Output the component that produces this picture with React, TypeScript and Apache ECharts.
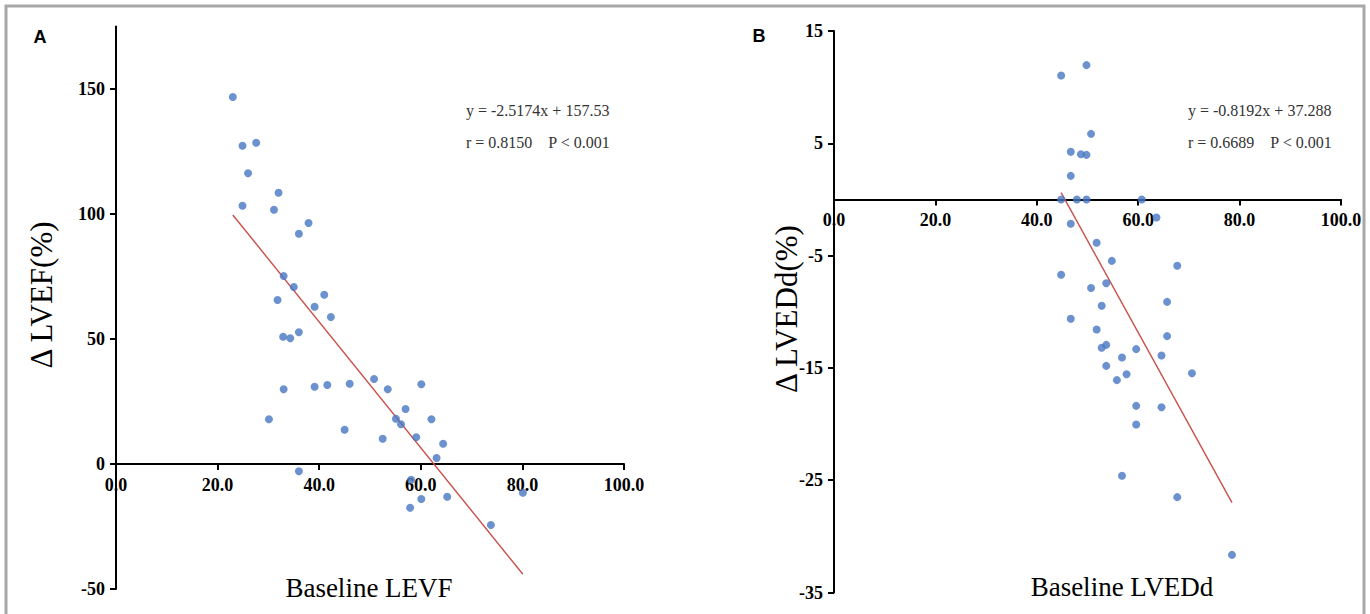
import React, { useEffect, useRef } from "react";
import * as echarts from "echarts";

// Panel A: Baseline LEVF vs ΔLVEF(%)
const aX = [23.0, 24.9, 27.6, 26.0, 24.9, 32.0, 31.1, 37.9, 36.0, 33.0, 35.0, 31.8, 41.0, 39.1, 42.3, 32.9, 34.3, 36.0, 33.0, 39.1, 41.6, 46.0, 50.8, 53.5, 60.1, 30.1, 45.0, 52.5, 55.1, 56.1, 57.0, 62.1, 59.1, 64.4, 63.1, 36.0, 58.1, 60.1, 65.2, 57.9, 73.8, 80.1];
const aY = [146.8, 127.3, 128.5, 116.3, 103.3, 108.5, 101.7, 96.4, 92.1, 75.2, 70.8, 65.6, 67.7, 62.9, 58.8, 50.9, 50.3, 52.7, 29.9, 30.9, 31.6, 32.1, 34.0, 29.9, 31.9, 17.9, 13.7, 10.1, 18.1, 15.9, 22.0, 17.9, 10.7, 8.1, 2.4, -2.9, -6.3, -14.0, -13.1, -17.5, -24.4, -11.5];
const aTrend = [[23.0, 99.6], [80.1, -44.1]];
const aYTicks = [-50, 0, 50, 100, 150];

// Panel B: Baseline LVEDd vs ΔLVEDd(%)
const bX = [44.8, 49.8, 50.7, 46.7, 48.7, 49.8, 46.7, 44.8, 47.9, 49.8, 60.7, 63.6, 46.7, 51.8, 54.8, 67.7, 44.8, 53.7, 50.7, 65.7, 52.8, 46.7, 51.8, 65.7, 53.7, 52.8, 59.6, 64.6, 56.8, 53.7, 57.7, 70.6, 55.8, 59.6, 64.6, 59.6, 56.8, 67.7, 78.5];
const bY = [11.04, 11.96, 5.84, 4.24, 4.03, 3.97, 2.1, 0, 0, 0, 0, -1.6, -2.17, -3.86, -5.47, -5.91, -6.71, -7.46, -7.88, -9.12, -9.47, -10.63, -11.58, -12.17, -12.95, -13.21, -13.33, -13.89, -14.07, -14.82, -15.56, -15.47, -16.09, -18.38, -18.5, -20.04, -24.61, -26.51, -31.65];
const bTrend = [[44.8, 0.6], [78.5, -27.0]];

const eqA = ["y = -2.5174x + 157.53", "r = 0.8150    P < 0.001"];
const eqB = ["y = -0.8192x + 37.288", "r = 0.6689    P < 0.001"];

const SERIF = "'Liberation Serif', 'Times New Roman', serif";
const SANS = "'Liberation Sans', Arial, sans-serif";
const DOT = "#4677c2";
const TREND = "#c9504a";

const A_MIN = -50, A_MAX = 175;
const B_MIN = -35, B_MAX = 15;
const GA = { left: 116, top: 26.5, width: 508, height: 562.5 };
const GB = { left: 834, top: 31, width: 507, height: 561.5 };

function zip(xs: number[], ys: number[]) {
  return xs.map((x, i) => [x, ys[i]]);
}

export default function App() {
  const ref = useRef<HTMLDivElement>(null);
  useEffect(() => {
    document.body.style.margin = "0";
    const chart = echarts.init(ref.current!, null, { renderer: "svg" });
    const tickLabel = {
      fontFamily: SERIF,
      fontWeight: "bold" as const,
      fontSize: 18,
      color: "#000",
    };
    const axisTick = { length: 6, lineStyle: { color: "#000", width: 2 } };
    const xAxisCommon = {
      type: "value" as const,
      position: "bottom" as const,
      min: 0,
      max: 100,
      interval: 20,
      splitLine: { show: false },
      axisLine: { onZero: false, lineStyle: { color: "#000", width: 2 } },
      axisTick,
      axisLabel: { ...tickLabel, margin: 12, formatter: (v: number) => v.toFixed(1) },
    };
    const offA = -((0 - A_MIN) / (A_MAX - A_MIN)) * GA.height;
    const offB = -((0 - B_MIN) / (B_MAX - B_MIN)) * GB.height;
    const txt = (x: number, y: number, text: string, font: string, extra: any = {}) => ({
      type: "text",
      x,
      y,
      ...extra,
      style: { text, font, fill: extra.fill || "#000", textAlign: extra.align || "center", textVerticalAlign: "middle" },
    });
    chart.setOption({
      animation: false,
      backgroundColor: "#fff",
      grid: [
        { ...GA, outerBoundsMode: "none", containLabel: false },
        { ...GB, outerBoundsMode: "none", containLabel: false },
      ],
      xAxis: [
        { ...xAxisCommon, gridIndex: 0, offset: offA },
        { ...xAxisCommon, gridIndex: 1, offset: offB },
      ],
      yAxis: [
        {
          type: "value",
          gridIndex: 0,
          min: A_MIN,
          max: A_MAX,
          interval: 25,
          splitLine: { show: false },
          axisLine: { onZero: false, lineStyle: { color: "#000", width: 2 } },
          axisTick: { ...axisTick, customValues: aYTicks },
          axisLabel: { ...tickLabel, margin: 11, customValues: aYTicks },
        },
        {
          type: "value",
          gridIndex: 1,
          min: B_MIN,
          max: B_MAX,
          interval: 10,
          splitLine: { show: false },
          axisLine: { onZero: false, lineStyle: { color: "#000", width: 2 } },
          axisTick,
          axisLabel: { ...tickLabel, margin: 11 },
        },
      ],
      series: [
        {
          type: "line",
          xAxisIndex: 0,
          yAxisIndex: 0,
          data: aTrend,
          showSymbol: false,
          lineStyle: { color: TREND, width: 1.4 },
          z: 2,
        },
        {
          type: "scatter",
          xAxisIndex: 0,
          yAxisIndex: 0,
          data: zip(aX, aY),
          symbolSize: 8,
          itemStyle: { color: DOT },
          z: 3,
        },
        {
          type: "line",
          xAxisIndex: 1,
          yAxisIndex: 1,
          data: bTrend,
          showSymbol: false,
          lineStyle: { color: TREND, width: 1.4 },
          z: 2,
        },
        {
          type: "scatter",
          xAxisIndex: 1,
          yAxisIndex: 1,
          data: zip(bX, bY),
          symbolSize: 8,
          itemStyle: { color: DOT },
          z: 3,
        },
      ],
      graphic: [
        {
          type: "rect",
          shape: { x: 6, y: 6, width: 1358, height: 640 },
          style: { fill: "none", stroke: "#a8a8a8", lineWidth: 3 },
          silent: true,
        },
        txt(40, 37, "A", `bold 18px ${SANS}`),
        txt(759, 36, "B", `bold 18px ${SANS}`),
        txt(41, 295, "Δ LVEF(%)", `31px ${SERIF}`, { rotation: Math.PI / 2 }),
        txt(786, 309, "Δ LVEDd(%)", `31px ${SERIF}`, { rotation: Math.PI / 2 }),
        txt(369, 588, "Baseline LEVF", `27px ${SERIF}`),
        txt(1122, 587, "Baseline LVEDd", `27px ${SERIF}`),
        txt(466, 110, eqA[0], `16px ${SERIF}`, { fill: "#333", align: "left" }),
        txt(466, 142, eqA[1], `16px ${SERIF}`, { fill: "#333", align: "left" }),
        txt(1188, 110, eqB[0], `16px ${SERIF}`, { fill: "#333", align: "left" }),
        txt(1188, 142, eqB[1], `16px ${SERIF}`, { fill: "#333", align: "left" }),
      ],
    });
    return () => chart.dispose();
  }, []);
  return (
    <div
      ref={ref}
      style={{ position: "absolute", left: 0, top: 0, width: 1370, height: 614 }}
    />
  );
}
